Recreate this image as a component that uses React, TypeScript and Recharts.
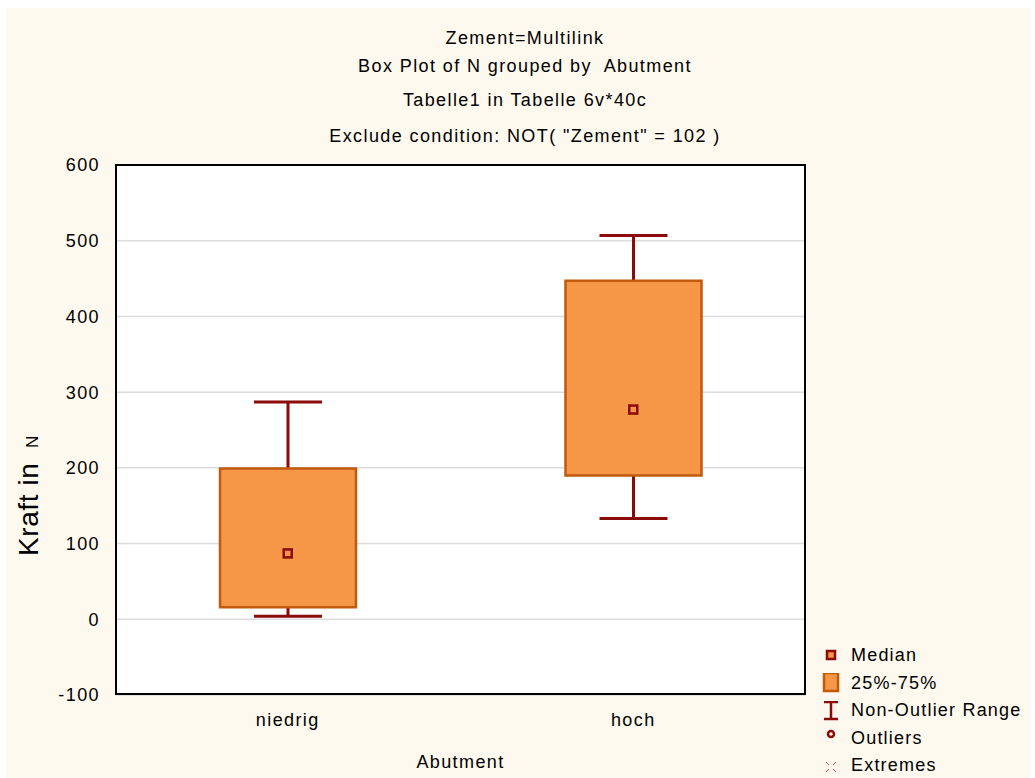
import React from "react";
import {
  Bar,
  ComposedChart,
  CartesianGrid,
  Scatter,
  XAxis,
  YAxis,
} from "recharts";

const CATEGORIES = ["niedrig", "hoch"];
const WHISKER_LOW = [4, 133];
const Q1 = [16, 190];
const MEDIAN = [87, 277];
const Q3 = [199, 447];
const WHISKER_HIGH = [287, 507];
const Y_TICKS = [-100, 0, 100, 200, 300, 400, 500, 600];
const TITLES = [
  "Zement=Multilink",
  "Box Plot of N grouped by  Abutment",
  "Tabelle1 in Tabelle 6v*40c",
  'Exclude condition: NOT( "Zement" = 102 )',
];

const data = CATEGORIES.map((name, i) => ({
  name,
  range: [WHISKER_LOW[i], WHISKER_HIGH[i]],
  box: [Q1[i], Q3[i]],
  median: MEDIAN[i],
}));

const FONT = '"Liberation Sans", Arial, sans-serif';
const MAROON = "#8B0A0A";
const BOX_FILL = "#F69647";
const BOX_EDGE = "#C05A0C";
const CREAM = "#FEF9EE";
const TEXT = { fill: "#000", fontSize: 18, fontFamily: FONT, letterSpacing: 1.4 };

function WhiskerShape(props: any) {
  const { x, y, width, height } = props;
  const cx = x + width / 2;
  const cap = 34;
  return (
    <g stroke={MAROON} strokeWidth={3}>
      <line x1={cx} x2={cx} y1={y} y2={y + height} />
      <line x1={cx - cap} x2={cx + cap} y1={y} y2={y} />
      <line x1={cx - cap} x2={cx + cap} y1={y + height} y2={y + height} />
    </g>
  );
}

function MedianShape(props: any) {
  const { cx, cy } = props;
  return (
    <rect
      x={cx - 4}
      y={cy - 4}
      width={8}
      height={8}
      fill={BOX_FILL}
      stroke={MAROON}
      strokeWidth={2.5}
    />
  );
}

function LegendBox() {
  const rows = [
    {
      label: "Median",
      icon: <rect x={5} y={5} width={8} height={8} fill={BOX_FILL} stroke={MAROON} strokeWidth={2.5} />,
    },
    {
      label: "25%-75%",
      icon: <rect x={2} y={0} width={14} height={18} fill={BOX_FILL} stroke={BOX_EDGE} strokeWidth={2.5} />,
    },
    {
      label: "Non-Outlier Range",
      icon: (
        <g stroke={MAROON} strokeWidth={2.5}>
          <line x1={9} x2={9} y1={1} y2={18} />
          <line x1={2} x2={16} y1={1} y2={1} />
          <line x1={2} x2={16} y1={18} y2={18} />
        </g>
      ),
    },
    {
      label: "Outliers",
      icon: <circle cx={9} cy={6} r={3} fill="none" stroke={MAROON} strokeWidth={2.5} />,
    },
    {
      label: "Extremes",
      icon: (
        <g stroke="#D24A4A" strokeWidth={1}>
          <line x1={4} x2={7} y1={6} y2={9} />
          <line x1={14} x2={11} y1={6} y2={9} />
          <line x1={4} x2={7} y1={16} y2={13} />
          <line x1={14} x2={11} y1={16} y2={13} />
        </g>
      ),
    },
  ];
  return (
    <div style={{ fontFamily: FONT, fontSize: 18, letterSpacing: 1.2, color: "#000" }}>
      {rows.map((r) => (
        <div key={r.label} style={{ display: "flex", alignItems: "center", height: 27.5 }}>
          <svg width={18} height={20} style={{ marginRight: 11 }}>
            {r.icon}
          </svg>
          <span>{r.label}</span>
        </div>
      ))}
    </div>
  );
}

export default function App() {
  return (
    <div style={{ position: "fixed", left: 0, top: 0, width: 1035, height: 778, background: "#fff" }}>
      <div style={{ position: "absolute", left: 6, top: 8, width: 1024, height: 770, background: CREAM }} />
      {TITLES.map((t, i) => (
        <div
          key={t}
          style={{
            position: "absolute",
            left: 0,
            width: 1050,
            top: [27, 55, 89, 125][i],
            textAlign: "center",
            fontFamily: FONT,
            fontSize: 18,
            letterSpacing: 1.4,
            whiteSpace: "pre",
            color: "#000",
            lineHeight: "22px",
          }}
        >
          {t}
        </div>
      ))}
      <div style={{ position: "absolute", left: 0, top: 0 }}>
        <ComposedChart
          width={1035}
          height={778}
          data={data}
          margin={{ top: 165, right: 229, bottom: 3, left: 55 }}
        >
          <CartesianGrid
            horizontal
            vertical={false}
            stroke="#DCDCDC"
            strokeWidth={1.5}
            fill="#fff"
          />
          <XAxis
            xAxisId="main"
            dataKey="name"
            height={80}
            tickLine={false}
            axisLine={false}
            tickMargin={12}
            tick={TEXT}
            label={{
              value: "Abutment",
              position: "insideBottom",
              offset: 7,
              ...TEXT,
            }}
          />
          <XAxis xAxisId="whisker" dataKey="name" hide />
          <YAxis
            width={60}
            domain={[-100, 600]}
            ticks={Y_TICKS}
            interval={0}
            tickLine={false}
            axisLine={false}
            tickSize={0}
            tickMargin={15}
            tick={TEXT}
            label={{
              content: () => (
                <text
                  transform="translate(38,556) rotate(-90)"
                  textAnchor="start"
                  fontFamily={FONT}
                  fill="#000"
                  letterSpacing={0.6}
                >
                  <tspan fontSize={28}>Kraft in </tspan>
                  <tspan fontSize={17} dx={6}>N</tspan>
                </text>
              ),
            }}
          />
          <Bar
            xAxisId="whisker"
            dataKey="range"
            barSize={136}
            shape={<WhiskerShape />}
            isAnimationActive={false}
          />
          <Bar
            xAxisId="main"
            dataKey="box"
            barSize={136}
            fill={BOX_FILL}
            stroke={BOX_EDGE}
            strokeWidth={2.5}
            isAnimationActive={false}
          />
          <Scatter
            xAxisId="main"
            dataKey="median"
            shape={<MedianShape />}
            isAnimationActive={false}
          />
        </ComposedChart>
      </div>
      <div style={{ position: "absolute", left: 822, top: 642, width: 210 }}>
        <LegendBox />
      </div>
      <div
        style={{
          position: "absolute",
          left: 115,
          top: 164,
          width: 691,
          height: 531,
          boxSizing: "border-box",
          border: "2.5px solid #000",
          pointerEvents: "none",
        }}
      />
    </div>
  );
}
